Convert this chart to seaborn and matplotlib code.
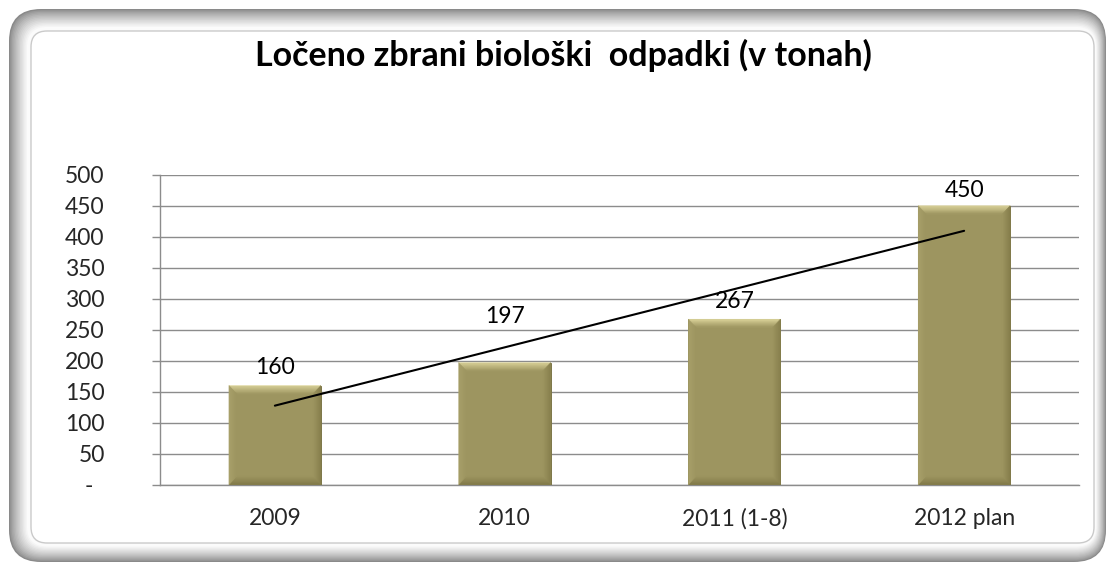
import numpy as np
import pandas as pd
import seaborn as sns
import matplotlib
matplotlib.use("Agg")
import matplotlib.pyplot as plt
from matplotlib.patches import FancyBboxPatch, Polygon
from matplotlib.colors import to_rgb
from matplotlib.transforms import IdentityTransform

# ---------------- data ----------------
categories = ["2009", "2010", "2011 (1-8)", "2012 plan"]
values = [160, 197, 267, 450]
value_labels = ["160", "197", "267", "450"]
y_ticks = [0, 50, 100, 150, 200, 250, 300, 350, 400, 450, 500]
y_tick_labels = ["-  ", "50", "100", "150", "200", "250", "300", "350", "400", "450", "500"]
title = "Ločeno zbrani biološki  odpadki (v tonah)"

# label offsets above bar tops (points) -- style only
label_offsets = [13, 33, 13, 11]

sns.set_theme(style="white")
plt.rcParams['font.family'] = ['Lato', 'DejaVu Sans']

W, H = 1106, 565
fig = plt.figure(figsize=(W / 100, H / 100), dpi=100)
fig.patch.set_facecolor("white")


def rect_px(x0, y0, x1, y1, r, fc, ec="none", lw=0, z=-10):
    p = FancyBboxPatch((x0, H - y1), x1 - x0, y1 - y0,
                       boxstyle=f"round,pad=0,rounding_size={r}",
                       transform=IdentityTransform(), facecolor=fc,
                       edgecolor=ec, linewidth=lw, zorder=z)
    fig.patches.append(p)


def mix(c1, c2, t):
    a, b = np.array(to_rgb(c1)), np.array(to_rgb(c2))
    return tuple(a + (b - a) * t)


# ---------------- frame ----------------
outer = (9, 9, 1106, 562)
inner = (31, 31, 1094, 543)
nlay = 16
for i in range(nlay):
    t = i / nlay
    box = [outer[k] + (inner[k] - outer[k]) * t for k in range(4)]
    g = mix("#8a8a8a", "#fbfbfb", min(1.0, (t / 0.8) ** 0.8))
    rect_px(*box, r=32 - 14 * t, fc=g, z=-40 + i)
rect_px(*inner, r=16, fc="white", ec="#cacaca", lw=1.0, z=-5)

# ---------------- axes ----------------
ax_l, ax_r, ax_t, ax_b = 160, 1079, 174.7, 484.7
ax = fig.add_axes([ax_l / W, 1 - ax_b / H, (ax_r - ax_l) / W, (ax_b - ax_t) / H])
ax.set_facecolor("none")

main_col = "#9d9560"
df = pd.DataFrame({"cat": categories, "val": values})
sns.barplot(data=df, x="cat", y="val", color=main_col, width=0.4,
            saturation=1, ax=ax, zorder=3, edgecolor="#7d7748", linewidth=0.7)

ax.set_xlim(-0.5, len(categories) - 0.5)
ax.set_ylim(0, 500)
ax.set_xlabel("")
ax.set_ylabel("")

# soft gradient bevel on bars
bx = 0.035   # data units horizontally (~8 px)
by = 14      # data units vertically (~9 px)
nb = 8
edge_cols = {"top": "#e4dca2", "bottom": "#7c7545", "left": "#aaa26c", "right": "#847d4a"}
for p in list(ax.patches):
    x0, y0, w, h = p.get_x(), p.get_y(), p.get_width(), p.get_height()
    x1, y1 = x0 + w, y0 + h
    for j in range(nb):
        a0, a1 = j / nb, (j + 1) / nb
        dx0, dx1 = bx * a0, bx * a1
        dy0, dy1 = by * a0, by * a1
        t = (j + 0.5) / nb
        strips = {
            "top": [(x0 + dx0, y1 - dy0), (x1 - dx0, y1 - dy0), (x1 - dx1, y1 - dy1), (x0 + dx1, y1 - dy1)],
            "bottom": [(x0 + dx0, y0 + dy0), (x1 - dx0, y0 + dy0), (x1 - dx1, y0 + dy1), (x0 + dx1, y0 + dy1)],
            "left": [(x0 + dx0, y0 + dy0), (x0 + dx0, y1 - dy0), (x0 + dx1, y1 - dy1), (x0 + dx1, y0 + dy1)],
            "right": [(x1 - dx0, y0 + dy0), (x1 - dx0, y1 - dy0), (x1 - dx1, y1 - dy1), (x1 - dx1, y0 + dy1)],
        }
        for side, pts in strips.items():
            c = mix(edge_cols[side], main_col, t ** 0.9)
            ax.add_patch(Polygon(pts, closed=True, facecolor=c, edgecolor=c,
                                 linewidth=0.3, zorder=3.5))

# trend line (linear fit of data)
xs = np.arange(len(values))
slope, intercept = np.polyfit(xs, values, 1)
ax.plot(xs, slope * xs + intercept, color="black", lw=1.5, zorder=5)

# value labels
for i, (v, lbl, off) in enumerate(zip(values, value_labels, label_offsets)):
    ax.annotate(lbl, (i, v), xytext=(0, off), textcoords="offset points",
                ha="center", va="center", fontsize=16.5, color="black")

# grid & spines
ax.set_yticks(y_ticks)
ax.set_yticklabels(y_tick_labels, fontsize=16.5)
ax.yaxis.grid(True, color="#8c8c8c", lw=1)
ax.xaxis.grid(False)
ax.set_axisbelow(True)
for s in ["top", "right"]:
    ax.spines[s].set_visible(False)
for s in ["left", "bottom"]:
    ax.spines[s].set_color("#8c8c8c")
    ax.spines[s].set_linewidth(1)

ax.set_xticks(xs)
ax.set_xticklabels(categories, fontsize=16.5)
ax.set_xticks(np.arange(-0.5, len(categories)), minor=True)
ax.tick_params(axis="x", which="major", length=0, pad=17)
ax.tick_params(axis="x", which="minor", length=5.8, color="#8c8c8c", width=1, direction="out")
ax.tick_params(axis="y", which="major", length=5.8, color="#8c8c8c", width=1, pad=34, left=True)

fig.text(563 / W, 1 - 55 / H, title, ha="center", va="center",
         fontsize=24.5, fontweight="bold", color="black")

fig.savefig("out.png", dpi=100)
